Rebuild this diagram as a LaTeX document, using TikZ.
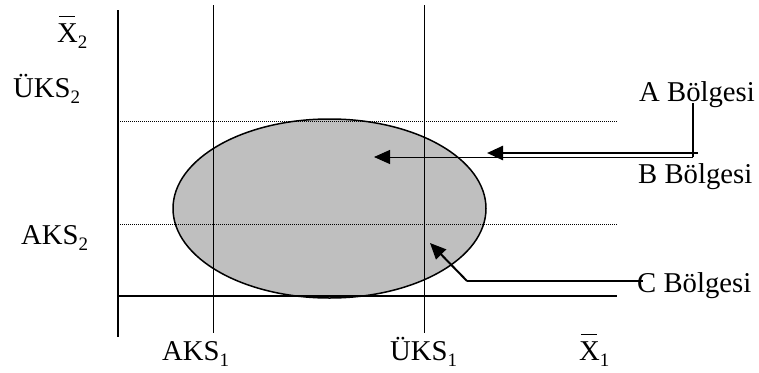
\documentclass[tikz,border=0pt]{standalone}
\usepackage{fontspec}
\setmainfont{Liberation Serif}
\usetikzlibrary{arrows.meta}
\newcommand\mysub[1]{\raisebox{-0.22em}{\fontsize{19}{19}\selectfont #1}}
\newcommand\xbar{\rlap{\hspace{0.06em}\raisebox{0.86em}{\rule{0.56em}{0.05em}}}X}
\tikzset{
  lbl/.style={inner sep=0pt, anchor=base west, font=\fontsize{28.7}{30}\selectfont},
  axis/.style={line width=1.8pt},
  guide/.style={line width=1pt},
  dotline/.style={line width=0.8pt, dash pattern=on 0.8pt off 1.2pt},
  tip/.style={-{Triangle[length=16pt,width=14pt]}},
}
\begin{document}
\begin{tikzpicture}[x=1pt,y=-1pt]
\useasboundingbox (0,0) rectangle (759,372);
% coordinates
\coordinate (ytop) at (118,10);
\coordinate (ybot) at (118,337);
\coordinate (xl) at (117,296);
\coordinate (xr) at (617,296);
\coordinate (a1t) at (213,5);
\coordinate (a1b) at (213,333);
\coordinate (u1t) at (424,5);
\coordinate (u1b) at (424,333);
\coordinate (d1l) at (118,121);
\coordinate (d1r) at (617,121);
\coordinate (d2l) at (118,224);
\coordinate (d2r) at (617,224);
% ellipse region
\fill[black!25] (329.5,208.5) ellipse [x radius=156.5, y radius=89.5];
\draw[line width=1.5pt] (329.5,208.5) ellipse [x radius=156.5, y radius=89.5];
% guides
\draw[dotline] (d1l) -- (d1r);
\draw[dotline] (d2l) -- (d2r);
\draw[guide] (a1t) -- (a1b);
\draw[guide] (u1t) -- (u1b);
\draw[axis] (ytop) -- (ybot);
\draw[axis] (xl) -- (xr);
% labels
\node[lbl] (x2) at (57,42) {\xbar\mysub{2}};
\node[lbl] (uks2) at (13,97) {ÜKS\mysub{2}};
\node[lbl] (aks2) at (21,244) {AKS\mysub{2}};
\node[lbl] (aks1) at (162,360) {AKS\mysub{1}};
\node[lbl] (uks1) at (390,360) {ÜKS\mysub{1}};
\node[lbl] (x1) at (579,360) {\xbar\mysub{1}};
\node[lbl] (A) at (639,101) {A Bölgesi};
\node[lbl] (B) at (638,183) {B Bölgesi};
\node[lbl] (C) at (637,292) {C Bölgesi};
% pointers
\coordinate (atop) at (693,103);
\coordinate (ajoin) at (693,157);
\coordinate (athin) at (374,157);
\coordinate (bstart) at (698,153);
\coordinate (btip) at (487,153);
\coordinate (cstart) at (643,281);
\coordinate (cbend) at (467,281);
\coordinate (ctip) at (430,243);
\draw[line width=1.5pt] (atop) -- (ajoin);
\draw[line width=1pt, tip] (ajoin) -- (athin);
\draw[line width=2.5pt, tip] (bstart) -- (btip);
\draw[line width=2pt] (cstart) -- (cbend);
\draw[line width=2pt, tip] (cbend) -- (ctip);
\end{tikzpicture}
\end{document}
